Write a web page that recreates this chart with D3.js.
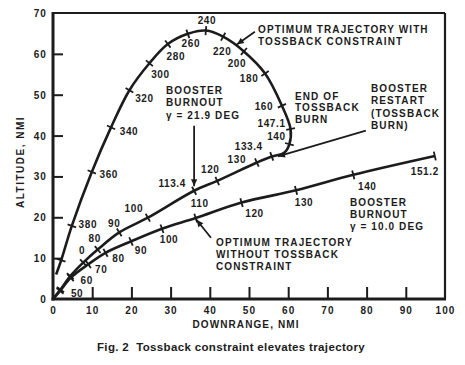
<!DOCTYPE html>
<html><head><meta charset="utf-8">
<script src="https://cdn.jsdelivr.net/npm/d3@7"></script>
<style>
body{margin:0;background:#fff;}
svg{display:block;font-family:"Liberation Sans",Arial,sans-serif;}
</style></head><body><svg id="c" width="465" height="365"></svg>
<script>
// ---- data ----
const xTickValues = [0,10,20,30,40,50,60,70,80,90,100];
const yTickValues = [0,10,20,30,40,50,60,70];

// Optimum trajectory WITH tossback constraint (time marks in s; null = shape point)
const tossX = [0, 1.9, 4.4, 7.7, 11.4, 16.9, 24.2, 36.0, 41.9, 52.0, 55.8, 59.0, 60.3, 60.6, 58.4, 54.1, 48.7, 43.4, 39.0, 34.4, 29.3, 24.6, 19.5, 14.8, 9.9, 4.8, 2.1, 0.8];
const tossY = [0, 2.3, 5.6, 8.9, 12.1, 16.3, 19.9, 26.5, 28.9, 33.4, 34.9, 35.8, 37.9, 41.6, 47.3, 55.2, 60.6, 64.2, 65.7, 64.9, 62.4, 57.7, 51.1, 42.0, 31.1, 17.9, 9.5, 6.0];
const tossT = [null, 50, 60, 70, 80, 90, 100, 113.4, 120, 130, 133.4, null, 140, 147.1, 160, 180, 200, 220, 240, 260, 280, 300, 320, 340, 360, 380, 400, null];
const tossLabelText = {70:"0", 80:"80", 90:"90", 100:"100", 113.4:"113.4", 120:"120", 130:"130", 133.4:"133.4", 140:"140", 147.1:"147.1", 160:"160", 180:"180", 200:"200", 220:"220", 240:"240", 260:"260", 280:"280", 300:"300", 320:"320", 340:"340", 360:"360", 380:"380"};

// Optimum trajectory WITHOUT tossback constraint
const noTossX = [0, 1.8, 4.5, 9.0, 13.4, 19.9, 27.8, 36.4, 48.1, 62.0, 76.6, 97.4];
const noTossY = [0, 2.0, 5.2, 8.5, 11.3, 14.1, 17.2, 19.8, 23.6, 26.6, 30.4, 35.0];
const noTossT = [null, 50, 60, 70, 80, 90, 100, 110, 120, 130, 140, 151.2];
const noTossLabelText = {50:"50", 60:"60", 70:"70", 80:"80", 90:"90", 100:"100", 110:"110", 120:"120", 130:"130", 140:"140", 151.2:"151.2"};

// ---- layout ----
const ink = "#1c1c1c";
const svg = d3.select("#c");
const x = d3.scaleLinear().domain([0,100]).range([53,445]);
const y = d3.scaleLinear().domain([0,70]).range([299,13]);

// label offsets (px) relative to their mark
const tossOff = {70:[-1,-12], 80:[-3,-11], 90:[-5,-9], 100:[-14,-9], 113.4:[-22,-7], 120:[-7,-11], 130:[-20,-3], 133.4:[-23,-10],
  140:[-13,-8], 147.1:[-19,-6], 160:[-18,1], 180:[-16,5], 200:[-7,12], 220:[-1,15], 240:[1,-10], 260:[3,10], 280:[8,12],
  300:[11,11], 320:[15,8], 340:[18,4], 360:[17,3], 380:[16,-1]};
const noTossOff = {50:[17,3], 60:[16,3], 70:[13,5], 80:[13,6], 90:[10,9], 100:[7,11], 110:[4,-15], 120:[13,11], 130:[8,12], 140:[14,12], 151.2:[-10,15]};

const txtStyle = s => s.attr("fill", ink).attr("font-size", 10).attr("font-weight", "bold").attr("letter-spacing", 1.1);

// frame
svg.append("line").attr("x1",x(0)).attr("x2",x(100)).attr("y1",y(70)).attr("y2",y(70)).attr("stroke",ink).attr("stroke-width",2.2);
svg.append("line").attr("x1",x(100)).attr("x2",x(100)).attr("y1",y(70)).attr("y2",y(0)+1).attr("stroke",ink).attr("stroke-width",2.2);
svg.append("line").attr("x1",x(0)).attr("x2",x(0)).attr("y1",y(70)-1).attr("y2",y(0)+1.5).attr("stroke",ink).attr("stroke-width",3);
svg.append("line").attr("x1",x(0)-1.5).attr("x2",x(100)+1).attr("y1",y(0)).attr("y2",y(0)).attr("stroke",ink).attr("stroke-width",3);

// axes (inward ticks) via d3 axes
const xAxis = svg.append("g").attr("transform",`translate(0,${y(0)})`)
  .call(d3.axisBottom(x).tickValues(xTickValues).tickSizeInner(-12).tickSizeOuter(0).tickPadding(15));
xAxis.select(".domain").remove();
xAxis.selectAll(".tick line").attr("stroke",ink).attr("stroke-width",2).filter(d=>d===0||d===100).remove();
xAxis.selectAll("text").call(txtStyle).attr("font-family","inherit").attr("dy","0");
const yAxis = svg.append("g").attr("transform",`translate(${x(0)},0)`)
  .call(d3.axisLeft(y).tickValues(yTickValues).tickSizeInner(-10).tickSizeOuter(0).tickPadding(17));
yAxis.select(".domain").remove();
yAxis.selectAll(".tick line").attr("stroke",ink).attr("stroke-width",2).filter(d=>d===0||d===70).remove();
yAxis.selectAll("text").call(txtStyle).attr("font-family","inherit").attr("x",-6).attr("dy","0.35em");

// axis titles
svg.append("text").attr("x",246).attr("y",328).attr("text-anchor","middle").text("DOWNRANGE, NMI").call(txtStyle);
svg.append("text").attr("transform","translate(24,162) rotate(-90)").attr("text-anchor","middle").text("ALTITUDE, NMI").call(txtStyle).attr("letter-spacing",1.5);
svg.append("text").attr("x",231).attr("y",351).attr("text-anchor","middle").style("white-space","pre")
  .text("Fig. 2  Tossback constraint elevates trajectory")
  .attr("fill",ink).attr("font-size",11.5).attr("font-weight","bold").attr("letter-spacing",0.35);

// curves
const line = d3.line().x(d=>x(d.x)).y(d=>y(d.y)).curve(d3.curveCatmullRom.alpha(0.5));
const toss = tossX.map((v,i)=>({x:v, y:tossY[i], t:tossT[i]}));
const noToss = noTossX.map((v,i)=>({x:v, y:noTossY[i], t:noTossT[i]}));

function drawSeries(pts, labelText, off){
  svg.append("path").datum(pts).attr("d",line).attr("fill","none").attr("stroke",ink).attr("stroke-width",2.6).attr("stroke-linejoin","round");
  pts.forEach((p,i)=>{
    if(p.t===null) return;
    const a = pts[Math.max(0,i-1)], b = pts[Math.min(pts.length-1,i+1)];
    let tx = x(b.x)-x(a.x), ty = y(b.y)-y(a.y);
    const L = Math.hypot(tx,ty)||1; tx/=L; ty/=L;
    const nx=-ty, ny=tx, px=x(p.x), py=y(p.y), h=4.5;
    svg.append("line").attr("x1",px-nx*h).attr("y1",py-ny*h).attr("x2",px+nx*h).attr("y2",py+ny*h)
      .attr("stroke",ink).attr("stroke-width",1.8);
    if(labelText[p.t]!==undefined){
      const o = off[p.t]||[0,0];
      svg.append("text").attr("x",px+o[0]).attr("y",py+o[1]).attr("text-anchor","middle").attr("dy","0.35em")
        .text(labelText[p.t]).call(txtStyle).attr("letter-spacing",0.6);
    }
  });
}
drawSeries(noToss, noTossLabelText, noTossOff);
drawSeries(toss, tossLabelText, tossOff);

// arrow marker
svg.append("defs").append("marker").attr("id","ah").attr("viewBox","0 0 10 10").attr("refX",10).attr("refY",5)
  .attr("markerWidth",8).attr("markerHeight",7).attr("markerUnits","userSpaceOnUse").attr("orient","auto")
  .append("path").attr("d","M0,0.5L10,5L0,9.5z").attr("fill",ink);
function arrow(x1,y1,x2,y2){
  svg.append("line").attr("x1",x(x1)).attr("y1",y(y1)).attr("x2",x(x2)).attr("y2",y(y2))
    .attr("stroke",ink).attr("stroke-width",1.8).attr("marker-end","url(#ah)");
}
arrow(51.5,65.4,46.9,62.3);
arrow(36.0,42.4,36.0,27.6);
arrow(79.8,41.2,57.4,34.9);
arrow(40.3,15.0,36.6,19.4);

// annotations
function note(px,py,lines,dy){
  const t = svg.append("text").attr("x",px).attr("y",py).call(txtStyle);
  lines.forEach((s,i)=>t.append("tspan").attr("x",px).attr("y",py+i*dy).attr("dy","0.35em").text(s));
}
note(258,29,["OPTIMUM TRAJECTORY WITH","TOSSBACK CONSTRAINT"],12);
note(166,90,["BOOSTER","BURNOUT","γ = 21.9 DEG"],12.5);
note(295,96,["END OF","TOSSBACK","BURN"],11.8);
note(371,88,["BOOSTER","RESTART","(TOSSBACK","BURN)"],12.6);
note(350,202,["BOOSTER","BURNOUT","γ = 10.0 DEG"],12);
note(216,242,["OPTIMUM TRAJECTORY","WITHOUT TOSSBACK","CONSTRAINT"],12);
</script></body></html>
